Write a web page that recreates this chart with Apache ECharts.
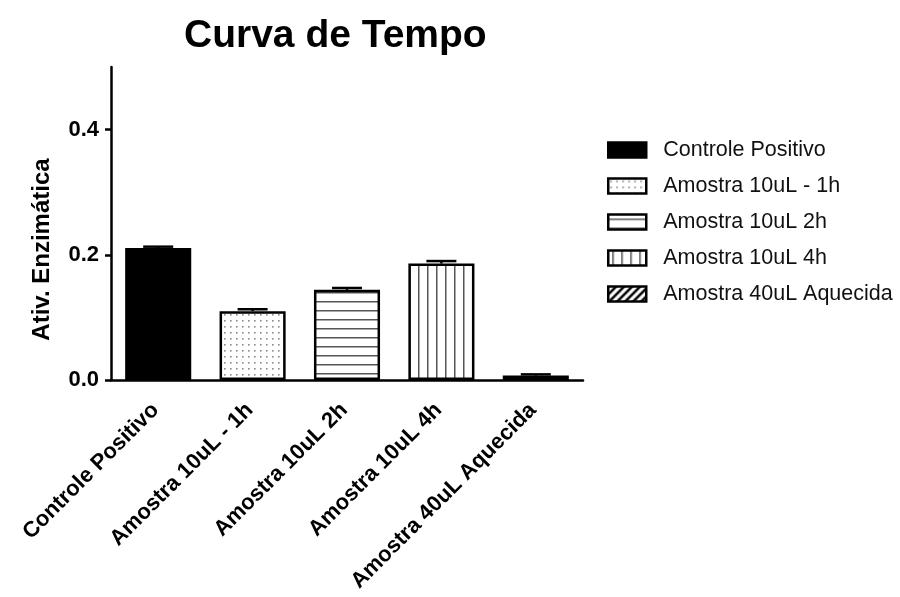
<!DOCTYPE html>
<html>
<head>
<meta charset="utf-8">
<script src="https://cdn.jsdelivr.net/npm/echarts@6/dist/echarts.min.js"></script>
<style>
  html, body { margin: 0; padding: 0; background: #fff; }
  #chart { width: 900px; height: 597px; }
</style>
</head>
<body>
<div id="chart"></div>
<script>
// Enzymatic activity per sample (mean and SEM)
const categories = ['Controle Positivo', 'Amostra 10uL - 1h', 'Amostra 10uL 2h', 'Amostra 10uL 4h', 'Amostra 40uL Aquecida'];
const means = [0.211, 0.110, 0.144, 0.186, 0.007];
const errors = [0.002, 0.003, 0.003, 0.004, 0.002];
const yTicks = [0, 0.2, 0.4];
const fills = ['solid', 'dots', 'hlines', 'vlines', 'diag'];

const FONT = '"Liberation Sans", Arial, Helvetica, sans-serif';

// Small repeating canvas tiles used as bar fills
function makePattern(kind) {
  if (kind === 'solid') return '#000';
  const c = document.createElement('canvas');
  const ctx = c.getContext('2d');
  if (kind === 'dots') {
    c.width = 6; c.height = 6;
    ctx.fillStyle = '#fff'; ctx.fillRect(0, 0, 6, 6);
    ctx.fillStyle = '#8a8a8a'; ctx.fillRect(2, 2, 1.6, 1.6);
  } else if (kind === 'hlines') {
    c.width = 9; c.height = 9;
    ctx.fillStyle = '#fff'; ctx.fillRect(0, 0, 9, 9);
    ctx.fillStyle = '#555'; ctx.fillRect(0, 4, 9, 1.5);
  } else if (kind === 'vlines') {
    c.width = 9; c.height = 9;
    ctx.fillStyle = '#fff'; ctx.fillRect(0, 0, 9, 9);
    ctx.fillStyle = '#555'; ctx.fillRect(4, 0, 1.5, 9);
  } else if (kind === 'diag') {
    c.width = 8; c.height = 8;
    ctx.fillStyle = '#fff'; ctx.fillRect(0, 0, 8, 8);
    ctx.strokeStyle = '#000'; ctx.lineWidth = 2.5;
    ctx.beginPath();
    ctx.moveTo(-2, 10); ctx.lineTo(10, -2);
    ctx.moveTo(-2, 2); ctx.lineTo(2, -2);
    ctx.moveTo(6, 10); ctx.lineTo(10, 6);
    ctx.stroke();
  }
  return { image: c, repeat: 'repeat' };
}

const barSeries = categories.map((name, i) => ({
  type: 'bar',
  name: name,
  data: categories.map((_, j) => (j === i ? means[i] : '-')),
  barWidth: '70%',
  barGap: '-100%',
  itemStyle: { color: makePattern(fills[i]), borderColor: '#000', borderWidth: 2.5 },
  z: 2
}));

const errorSeries = {
  type: 'custom',
  name: 'SEM',
  data: means.map((m, i) => [i, m, m + errors[i]]),
  encode: { x: 0, y: [1, 2] },
  renderItem: function (params, api) {
    const base = api.coord([api.value(0), api.value(1)]);
    const top = api.coord([api.value(0), api.value(2)]);
    const hw = 15;
    const style = { stroke: '#000', lineWidth: 2.5 };
    return {
      type: 'group',
      children: [
        { type: 'line', shape: { x1: base[0], y1: base[1], x2: top[0], y2: top[1] }, style: style },
        { type: 'line', shape: { x1: top[0] - hw, y1: top[1], x2: top[0] + hw, y2: top[1] }, style: style }
      ]
    };
  },
  z: 3
};

const chart = echarts.init(document.getElementById('chart'), null, { renderer: 'canvas' });
chart.setOption({
  animation: false,
  backgroundColor: '#fff',
  title: {
    text: 'Curva de Tempo',
    left: 179,
    top: 12,
    textStyle: { fontFamily: FONT, fontWeight: 'bold', fontSize: 39, color: '#000' }
  },
  legend: {
    orient: 'vertical',
    left: 602,
    top: 134,
    itemWidth: 38,
    itemHeight: 15,
    itemGap: 14,
    icon: 'rect',
    data: categories.map((name, i) => ({
      name: name,
      itemStyle: { color: makePattern(fills[i]), borderColor: '#000', borderWidth: 2.5 }
    })),
    textStyle: { fontFamily: FONT, fontSize: 21.5, color: '#111', padding: [0, 0, 0, 12] }
  },
  grid: { left: 111, right: 317, top: 67, bottom: 217, containLabel: false },
  xAxis: {
    type: 'category',
    data: categories,
    axisLine: { lineStyle: { color: '#000', width: 2.5 } },
    axisTick: { alignWithLabel: true, length: 6, lineStyle: { color: '#000', width: 2.5 } },
    axisLabel: {
      interval: 0,
      rotate: 45,
      margin: 24,
      padding: [0, 4, 0, 0],
      fontFamily: FONT,
      fontWeight: 'bold',
      fontSize: 22,
      color: '#000'
    },
    splitLine: { show: false }
  },
  yAxis: {
    type: 'value',
    min: 0,
    max: 0.5,
    interval: 0.1,
    name: 'Ativ. Enzimática',
    nameLocation: 'middle',
    nameGap: 57,
    nameRotate: 90,
    nameTextStyle: { fontFamily: FONT, fontWeight: 'bold', fontSize: 24, color: '#000', padding: [0, 52, 0, 0] },
    axisLine: { show: true, lineStyle: { color: '#000', width: 2.5 } },
    axisTick: { show: true, customValues: yTicks, length: 6, lineStyle: { color: '#000', width: 2.5 } },
    axisLabel: {
      customValues: yTicks,
      formatter: v => v.toFixed(1),
      margin: 12,
      fontFamily: FONT,
      fontWeight: 'bold',
      fontSize: 22,
      color: '#000'
    },
    splitLine: { show: false }
  },
  tooltip: { show: false },
  series: barSeries.concat([errorSeries])
});
</script>
</body>
</html>
